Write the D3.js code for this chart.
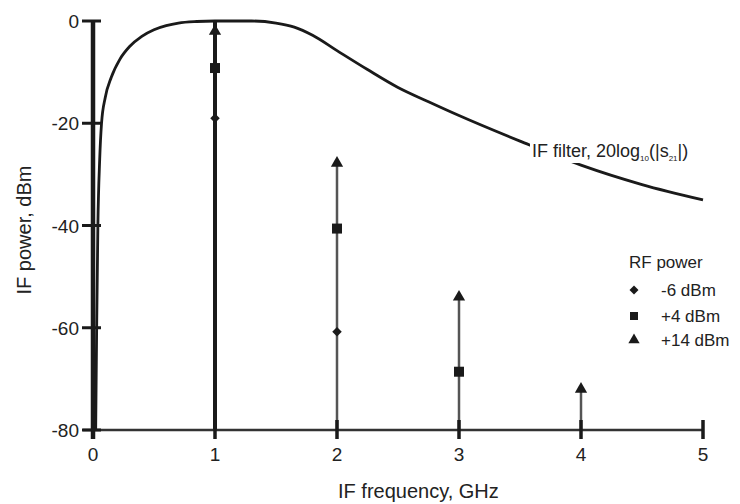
<!DOCTYPE html>
<html>
<head>
<meta charset="utf-8">
<script src="https://cdn.jsdelivr.net/npm/d3@7"></script>
<style>
  body { margin: 0; background: #fff; }
  svg text { font-family: "Liberation Sans", Arial, sans-serif; fill: #222; }
</style>
</head>
<body>
<div id="chart"></div>
<script>
// axis ticks
const freqTicks = [0, 1, 2, 3, 4, 5];
const powerTicks = [0, -20, -40, -60, -80];

// IF filter response, 20log10(|s21|)
const filterFreq = [0.022, 0.03, 0.04, 0.055, 0.07, 0.1, 0.15, 0.22, 0.3, 0.4, 0.5, 0.6, 0.7, 0.85, 1.0, 1.3, 1.5, 1.65, 1.8, 2.0, 2.25, 2.5, 2.75, 3.0, 3.5, 4.0, 4.5, 5.0];
const filterDb = [-80, -60, -40, -27, -20, -15, -11, -7.5, -5, -3, -1.7, -0.9, -0.4, -0.1, 0, 0, -0.4, -1.2, -2.8, -5.8, -9.5, -13, -15.8, -18.5, -23.5, -28.2, -32, -35];

// harmonics of the IF output, per RF drive level (null = not shown)
const harmonics = [1, 2, 3, 4];
const stemTop = [0, -27.8, -54, -72];
const rfMinus6 = [-19, -60.8, null, null];
const rfPlus4 = [-9.2, -40.6, -68.6, null];
const rfPlus14 = [-2, -27.8, -54, -72];

const legendLabels = ["-6 dBm", "+4 dBm", "+14 dBm"];

const width = 740, height = 504;
const svg = d3.select("#chart").append("svg")
  .attr("width", width)
  .attr("height", height);

const x = d3.scaleLinear().domain([0, 5]).range([93, 703]);
const y = d3.scaleLinear().domain([-80, 0]).range([430, 21]);

const symDiamond = d3.symbol().type(d3.symbolSquare);
const symSquare = d3.symbol().type(d3.symbolSquare);
const symTriangle = d3.symbol().type(d3.symbolTriangle);

// stems
svg.append("g")
  .selectAll("line")
  .data(harmonics)
  .enter()
  .append("line")
  .attr("x1", d => x(d))
  .attr("x2", d => x(d))
  .attr("y1", y(-80))
  .attr("y2", (d, i) => y(stemTop[i]))
  .attr("stroke", (d, i) => i === 0 ? "#1a1a1a" : "#555")
  .attr("stroke-width", (d, i) => i === 0 ? 4 : 2.5);

// x axis
const xAxis = svg.append("g");
xAxis.append("line")
  .attr("x1", x(0) - 10)
  .attr("x2", x(5))
  .attr("y1", y(-80))
  .attr("y2", y(-80))
  .attr("stroke", "#333")
  .attr("stroke-width", 2.5);
xAxis.selectAll(".xtick")
  .data(freqTicks)
  .enter()
  .append("line")
  .attr("x1", d => x(d))
  .attr("x2", d => x(d))
  .attr("y1", y(-80) - 10)
  .attr("y2", y(-80) + 9)
  .attr("stroke", "#1a1a1a")
  .attr("stroke-width", 3.5);
xAxis.selectAll("text")
  .data(freqTicks)
  .enter()
  .append("text")
  .attr("x", d => x(d))
  .attr("y", 461)
  .attr("text-anchor", "middle")
  .attr("font-size", 19)
  .text(d => d);

// y axis
const yAxis = svg.append("g");
yAxis.append("line")
  .attr("x1", x(0))
  .attr("x2", x(0))
  .attr("y1", y(0))
  .attr("y2", y(-80) + 9)
  .attr("stroke", "#1a1a1a")
  .attr("stroke-width", 4.5);
yAxis.selectAll(".ytick")
  .data(powerTicks)
  .enter()
  .append("line")
  .attr("x1", x(0) - 11)
  .attr("x2", x(0) + 8)
  .attr("y1", d => y(d))
  .attr("y2", d => y(d))
  .attr("stroke", "#1a1a1a")
  .attr("stroke-width", 3);
yAxis.selectAll("text")
  .data(powerTicks)
  .enter()
  .append("text")
  .attr("x", 79)
  .attr("y", d => y(d) + 7)
  .attr("text-anchor", "end")
  .attr("font-size", 19)
  .text(d => d);

// filter curve
const line = d3.line()
  .x(d => x(d[0]))
  .y(d => y(d[1]))
  .curve(d3.curveMonotoneX);

svg.append("path")
  .datum(filterFreq.map((f, i) => [f, filterDb[i]]))
  .attr("d", line)
  .attr("fill", "none")
  .attr("stroke", "#1a1a1a")
  .attr("stroke-width", 2.8);

// filter label, masking the curve underneath
const labelG = svg.append("g");
const mask = labelG.append("rect").attr("fill", "#fff");
const label = labelG.append("text")
  .attr("x", 532)
  .attr("y", 157)
  .attr("font-size", 18);
label.append("tspan").text("IF filter, 20log");
label.append("tspan").attr("font-size", 8).attr("dy", 4).text("10");
label.append("tspan").attr("dy", -4).text("(|s");
label.append("tspan").attr("font-size", 8).attr("dy", 4).text("21");
label.append("tspan").attr("dy", -4).text("|)");
const bb = label.node().getBBox();
mask.attr("x", bb.x - 2).attr("y", bb.y)
  .attr("width", bb.width + 4).attr("height", bb.height);

// markers
function addMarkers(values, gen, size, rot) {
  svg.append("g")
    .selectAll("path")
    .data(harmonics.map((h, i) => [h, values[i]]).filter(d => d[1] !== null))
    .enter()
    .append("path")
    .attr("d", gen.size(size)())
    .attr("transform", d => "translate(" + x(d[0]) + "," + y(d[1]) + ") rotate(" + rot + ")")
    .attr("fill", "#1a1a1a");
}
addMarkers(rfMinus6, symDiamond, 45, 45);
addMarkers(rfPlus4, symSquare, 100, 0);
addMarkers(rfPlus14, symTriangle, 65, 0);

// legend
const legend = svg.append("g");
legend.append("text")
  .attr("x", 629)
  .attr("y", 268)
  .attr("font-size", 17)
  .text("RF power");
const legendSyms = [[symDiamond, 40, 45], [symSquare, 64, 0], [symTriangle, 55, 0]];
const legendY = [290, 316, 340];
legend.selectAll(".lsym")
  .data(legendLabels)
  .enter()
  .append("path")
  .attr("d", (d, i) => legendSyms[i][0].size(legendSyms[i][1])())
  .attr("transform", (d, i) => "translate(634," + legendY[i] + ") rotate(" + legendSyms[i][2] + ")")
  .attr("fill", "#1a1a1a");
legend.selectAll(".ltext")
  .data(legendLabels)
  .enter()
  .append("text")
  .attr("x", 661)
  .attr("y", (d, i) => legendY[i] + 6)
  .attr("font-size", 17)
  .text(d => d);

// axis titles
svg.append("text")
  .attr("x", 338)
  .attr("y", 498)
  .attr("font-size", 20)
  .text("IF frequency, GHz");

svg.append("text")
  .attr("transform", "translate(31,230) rotate(-90)")
  .attr("text-anchor", "middle")
  .attr("font-size", 20)
  .text("IF power, dBm");
</script>
</body>
</html>
